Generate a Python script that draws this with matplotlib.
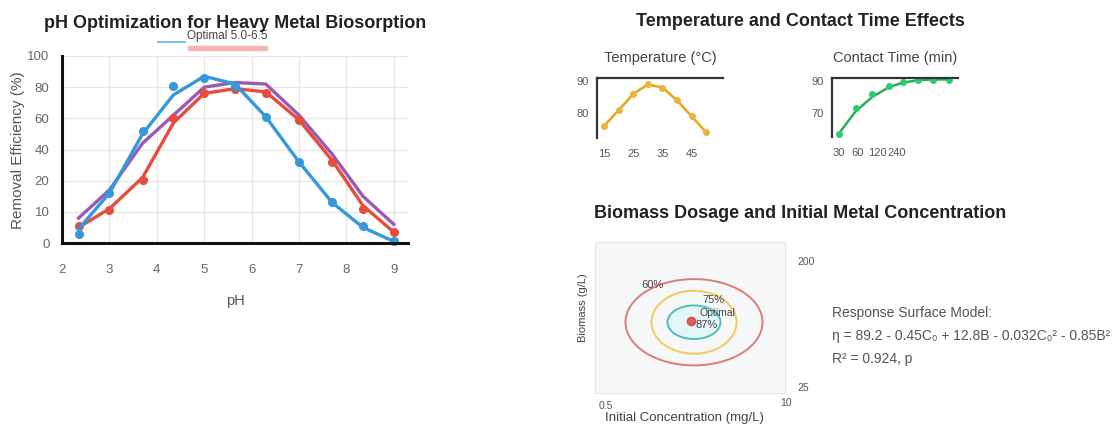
import numpy as np
import matplotlib
matplotlib.use('Agg')
import matplotlib.pyplot as plt
from matplotlib.patches import Ellipse, Rectangle

plt.rcParams['font.family'] = ['Liberation Sans', 'DejaVu Sans']

# --- pH panel data (removal efficiency, %) ---
ph_values = [2.35, 3.0, 3.7, 4.35, 5.0, 5.65, 6.3, 7.0, 7.7, 8.35, 9.0]
blue_points = [3, 16, 52, 81, 86, 81, 61, 32, 13, 5.5, 0.5]
blue_curve = [4.5, 16, 50, 75, 87, 82, 61, 32, 13, 5, 0.5]
red_points = [5.5, 10.5, 20.5, 60, 76.5, 79, 76, 59, 32, 11, 3.5]
red_curve = [5, 11, 22, 57, 76, 79, 77, 59, 33, 12, 3.5]
purple_curve = [8, 17, 44, 62, 80, 83, 82, 62, 37, 15, 6]
ph_xticks = [2, 3, 4, 5, 6, 7, 8, 9]
ph_yticks = [0, 10, 20, 40, 60, 80, 100]

# --- temperature / contact time ---
temp_c = [15, 20, 25, 30, 35, 40, 45, 50]
temp_removal = [76, 81, 86, 89, 88, 84, 79, 74]
contact_min = [30, 55, 100, 180, 300, 520, 900, 1600]
contact_points = [57, 73, 82, 87, 89.5, 90.5, 90.5, 90.5]
contact_fit = [57, 71, 80, 86, 89, 90.5, 91, 91]

# --- response surface contours ---
opt_conc, opt_biomass = 5.45, 107
contour_widths = [6.85, 4.25, 2.65]      # mg/L
contour_heights = [100, 73, 39]          # g/L
contour_colors = ['#e07b7b', '#f5c85a', '#4fbdb8']

W, H = 1120, 426
fig = plt.figure(figsize=(W / 100, H / 100), dpi=100)


def px_axes(left, top, right, bottom):
    return fig.add_axes([left / W, 1 - bottom / H, (right - left) / W, (bottom - top) / H])


def px_text(x, y, s, **kw):
    return fig.text(x / W, 1 - y / H, s, **kw)


# ---------------- pH optimization ----------------
ax = px_axes(62, 56, 408, 243)
fwd = lambda v: np.interp(v, ph_yticks, np.arange(len(ph_yticks)))
inv = lambda p: np.interp(p, np.arange(len(ph_yticks)), ph_yticks)
ax.set_yscale('function', functions=(fwd, inv))
ax.set_xlim(2, 9.3)
ax.set_ylim(0, 100)
ax.set_xticks(ph_xticks)
ax.set_yticks(ph_yticks)
ax.set_yticklabels([str(v) for v in ph_yticks])
ax.grid(True, color='#e6e6e6', lw=0.9)
ax.set_axisbelow(True)
for s in ['top', 'right']:
    ax.spines[s].set_visible(False)
for s in ['left', 'bottom']:
    ax.spines[s].set_linewidth(2.2)
    ax.spines[s].set_color('#111111')
ax.tick_params(length=0, labelsize=9.5, labelcolor='#666666')
ax.tick_params(axis='y', pad=9)
ax.tick_params(axis='x', pad=15)

ax.plot(ph_values, purple_curve, color='#9b59b6', lw=2.4, clip_on=False)
ax.plot(ph_values, red_curve, color='#e74c3c', lw=2.4, clip_on=False)
ax.plot(ph_values, red_points, 'o', color='#e74c3c', ms=5.5, clip_on=False)
ax.plot(ph_values, blue_curve, color='#3498db', lw=2.4, clip_on=False)
ax.plot(ph_values, blue_points, 'o', color='#3498db', ms=5.5, clip_on=False)

ax.set_xlabel('pH', fontsize=10.5, color='#555555', labelpad=13)
px_text(18, 150, 'Removal Efficiency (%)', fontsize=11, color='#555555',
        rotation=90, ha='center', va='center')

px_text(235, 24, 'pH Optimization for Heavy Metal Biosorption', fontsize=13,
        fontweight='bold', ha='center', va='center', color='#222222')
# overlapping legend-like marker under the title
ax.plot([(158 - 62) / 346, (185 - 62) / 346], [1.075, 1.075], color='#85c1e9', lw=1.5,
        transform=ax.transAxes, clip_on=False)
ax.text((187 - 62) / 346, 1.105, 'Optimal 5.0-6.5', transform=ax.transAxes,
        fontsize=8.5, color='#444444', va='center', ha='left')
ax.add_patch(Rectangle(((188 - 62) / 346, 1.033), (267 - 188) / 346, 0.022,
                       transform=ax.transAxes, color='#f5b7b1', clip_on=False))

# ---------------- temperature and contact time ----------------
px_text(800, 22, 'Temperature and Contact Time Effects', fontsize=13,
        fontweight='bold', ha='center', va='center', color='#222222')

axt = px_axes(597, 78, 723, 138)
axt.plot(temp_c, temp_removal, color='#e6a61c', lw=1.8)
axt.plot(temp_c, temp_removal, 'o', color='#eab53a', ms=4)
axt.set_xlim(12.5, 55.8)
axt.set_ylim(72.2, 91)
axt.set_xticks([15, 25, 35, 45])
axt.set_yticks([80, 90])
px_text(660, 58, 'Temperature (°C)', fontsize=10.5, color='#444444', ha='center', va='center')

axc = px_axes(832, 78, 958, 137)
axc.set_xscale('log')
axc.plot(contact_min, contact_fit, color='#27ae60', lw=1.8)
axc.plot(contact_min, contact_points, 'o', color='#2ecc71', ms=4)
axc.set_xlim(23.6, 2190)
axc.set_ylim(55, 91.9)
axc.set_xticks([30, 60, 120, 240])
axc.set_xticklabels(['30', '60', '120', '240'])
axc.xaxis.set_minor_locator(plt.NullLocator())
axc.set_yticks([70, 90])
px_text(895, 58, 'Contact Time (min)', fontsize=10.5, color='#444444', ha='center', va='center')

for a in (axt, axc):
    a.spines['bottom'].set_visible(False)
    a.spines['right'].set_visible(False)
    a.spines['top'].set_linewidth(1.6)
    a.spines['left'].set_linewidth(1.6)
    a.spines['top'].set_color('#333333')
    a.spines['left'].set_color('#333333')
    a.tick_params(length=0, labelsize=8, labelcolor='#555555')
    a.tick_params(axis='x', pad=8)
    a.tick_params(axis='y', pad=6)
    a.patch.set_alpha(0)

# ---------------- biomass dosage / concentration ----------------
px_text(800, 213, 'Biomass Dosage and Initial Metal Concentration', fontsize=13,
        fontweight='bold', ha='center', va='center', color='#222222')

axr = px_axes(595, 242, 785, 393)
axr.set_facecolor('#f6f7f8')
axr.set_xlim(0.5, 10)
axr.set_ylim(25, 200)
axr.set_xticks([])
axr.set_yticks([])
for s in axr.spines.values():
    s.set_color('#e6e6e6')
    s.set_linewidth(0.8)
axr.add_patch(Ellipse((opt_conc, opt_biomass), contour_widths[2], contour_heights[2],
                      facecolor='#e3f6f8', edgecolor='none'))
for w, h, c in zip(contour_widths, contour_heights, contour_colors):
    axr.add_patch(Ellipse((opt_conc, opt_biomass), w, h, fill=False, edgecolor=c, lw=1.4))
axr.plot([opt_conc - 0.15], [opt_biomass + 2], 'o', color='#d64541', ms=6, alpha=0.85)
axr.text(3.4, 150, '60%', fontsize=8, color='#444444', ha='center', va='center')
axr.text(6.4, 133, '75%', fontsize=8, color='#444444', ha='center', va='center')
axr.text(6.6, 118, 'Optimal', fontsize=7.5, color='#444444', ha='center', va='center')
axr.text(6.1, 104, '87%', fontsize=8, color='#444444', ha='center', va='center')

px_text(797, 262, '200', fontsize=7.5, color='#555555', ha='left', va='center')
px_text(797, 388, '25', fontsize=7.5, color='#555555', ha='left', va='center')
px_text(606, 406, '0.5', fontsize=7.5, color='#555555', ha='center', va='center')
px_text(786, 403, '10', fontsize=7.5, color='#555555', ha='center', va='center')
px_text(583, 308, 'Biomass (g/L)', fontsize=8, color='#444444', ha='center', va='center',
        rotation=90)
px_text(684, 418, 'Initial Concentration (mg/L)', fontsize=9.5, color='#444444',
        ha='center', va='center')

model_lines = ['Response Surface Model:',
               'η = 89.2 - 0.45C₀ + 12.8B - 0.032C₀² - 0.85B²',
               'R² = 0.924, p']
for i, line in enumerate(model_lines):
    px_text(832, 313 + 23 * i, line, fontsize=10, color='#555555', ha='left', va='center')

fig.savefig('out.png', dpi=100)
